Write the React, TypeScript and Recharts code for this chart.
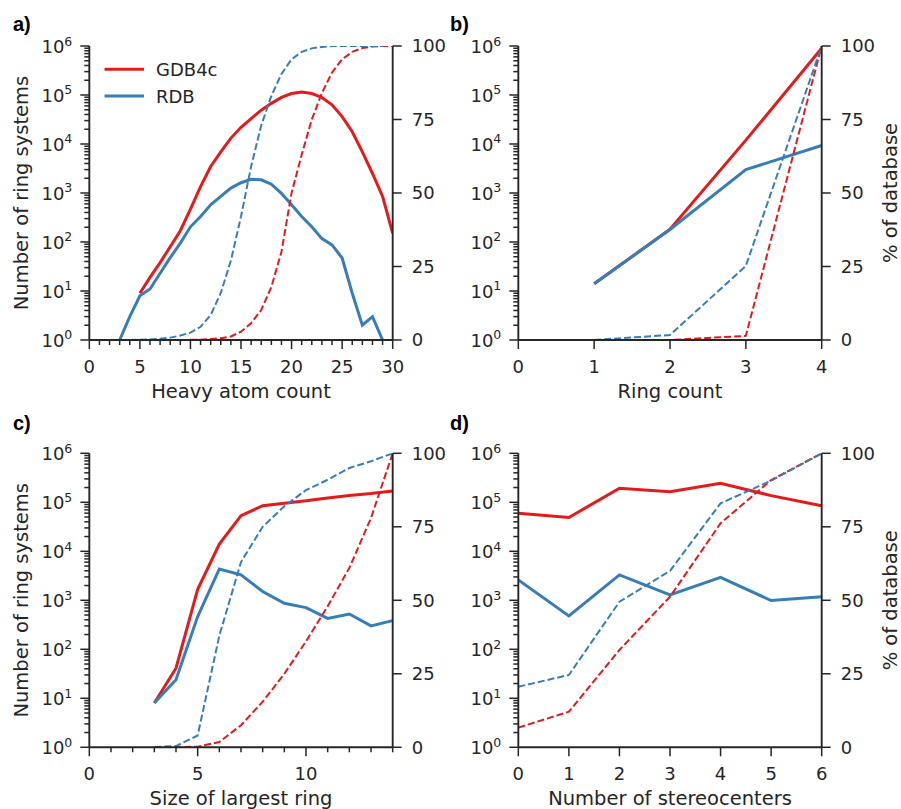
import React from 'react';
import { LineChart, Line, XAxis, YAxis } from 'recharts';

const RED = '#e41a1c';
const BLUE = '#377eb8';
const TEXT = '#262626';
const AXIS = '#262626';
const FONT = '"DejaVu Sans", sans-serif';
const THIN = 0.01;

// ---------- Panel a: heavy atom count ----------
const heavyAtomCount = [3, 4, 5, 6, 7, 8, 9, 10, 11, 12, 13, 14, 15, 16, 17, 18, 19, 20, 21, 22, 23, 24, 25, 26, 27, 28, 29, 30];
const gdbByHeavy = [null, null, 9, 19, 38, 80, 170, 470, 1350, 3470, 6900, 13200, 21900, 33100, 49000, 67600, 89000, 107000, 115000, 107000, 89000, 63000, 36300, 17800, 6900, 2500, 850, 150];
const rdbByHeavy = [1, 3, 8, 11, 23, 48, 95, 204, 331, 575, 851, 1260, 1620, 1900, 1860, 1510, 980, 575, 331, 204, 117, 87, 47, 9, 2, 3, 1, null];
const gdbPctByHeavy = [null, null, 0, 0, 0, 0, 0, 0.05, 0.1, 0.3, 0.6, 1.2, 2.8, 5.7, 10.2, 18, 30, 50, 63, 75, 84, 91, 95.5, 98, 99.3, 99.8, 100, 100];
const rdbPctByHeavy = [0, 0.03, 0.1, 0.2, 0.4, 0.8, 1.5, 2.5, 4.5, 8.5, 16, 27, 42, 59, 73, 83, 90.5, 95.5, 98, 99.2, 99.7, 100, 100, 100, 100, 100, 100, null];

// ---------- Panel b: ring count ----------
const ringCount = [1, 2, 3, 4];
const gdbByRings = [14, 182, 12000, 900000];
const rdbByRings = [14, 180, 3000, 9300];
const gdbPctByRings = [0, 0, 1.4, 100];
const rdbPctByRings = [0, 1.7, 25.2, 100];

// ---------- Panel c: size of largest ring ----------
const largestRing = [3, 4, 5, 6, 7, 8, 9, 10, 11, 12, 13, 14];
const gdbByRingSize = [8, 41, 1670, 14100, 53500, 85000, 95500, 107000, 123000, 138000, 151000, 170000];
const rdbByRingSize = [8, 24, 465, 4360, 3300, 1510, 870, 710, 427, 525, 300, 385];
const gdbPctByRingSize = [0, 0, 0.2, 1.8, 7.5, 15.5, 25, 36, 48, 61, 78, 100];
const rdbPctByRingSize = [0.1, 0.4, 4, 38, 63, 75, 82, 87.5, 91, 95, 97.3, 100];

// ---------- Panel d: stereocenters ----------
const stereocenters = [0, 1, 2, 3, 4, 5, 6];
const gdbByStereo = [60000, 49000, 194000, 165000, 245000, 137000, 85000];
const rdbByStereo = [2600, 480, 3300, 1290, 2950, 990, 1180];
const gdbPctByStereo = [6.7, 12.1, 33.1, 51.2, 76.2, 90.9, 100];
const rdbPctByStereo = [20.6, 24.6, 49.5, 60, 83, 90.7, 100];

// ---------- ticks ----------
const logTicks = [1, 10, 100, 1000, 10000, 100000, 1000000];
const logMinorTicks: number[] = [];
for (let e = 0; e < 6; e++) for (let m = 2; m <= 9; m++) logMinorTicks.push(m * Math.pow(10, e));
const pctTicks = [0, 25, 50, 75, 100];
const heavyTicks = [0, 5, 10, 15, 20, 25, 30];
const heavyMinor = Array.from({ length: 31 }, (_, i) => i).filter((v) => v % 5 !== 0);
const ringTicks = [0, 1, 2, 3, 4];
const ringSizeTicks = [0, 5, 10];
const ringSizeMinor = Array.from({ length: 15 }, (_, i) => i).filter((v) => v % 5 !== 0);
const stereoTicks = [0, 1, 2, 3, 4, 5, 6];

type Row = { x: number; gdb: number | null; rdb: number | null; gdbPct: number | null; rdbPct: number | null };

function buildRows(xs: number[], g: (number | null)[], r: (number | null)[], gp: (number | null)[], rp: (number | null)[]): Row[] {
  return xs.map((x, i) => ({ x, gdb: g[i], rdb: r[i], gdbPct: gp[i], rdbPct: rp[i] }));
}

const TICK_SIZE = 18;

const LogTick = (props: any) => {
  const { x, y, payload } = props;
  const exp = Math.round(Math.log10(payload.value));
  return (
    <text x={x} y={y} dy={7} textAnchor="end" fill={TEXT} fontSize={TICK_SIZE} fontFamily={FONT}>
      <tspan>10</tspan>
      <tspan dy={-7.5} fontSize={12.5}>{exp}</tspan>
    </text>
  );
};

const EmptyTick = () => <g />;

const axisLineStyle = { stroke: AXIS, strokeWidth: 1.9 };
const tickLineStyle = { stroke: AXIS, strokeWidth: 1.5 };
const tickText = { fill: TEXT, fontSize: TICK_SIZE, fontFamily: FONT };

type PanelProps = {
  rows: Row[];
  left: number;
  top: number;
  width: number;
  height: number;
  margin: { top: number; right: number; bottom: number; left: number };
  xDomain: [number, number];
  xTicks: number[];
  xMinor?: number[];
};

function Panel({ rows, left, top, width, height, margin, xDomain, xTicks, xMinor }: PanelProps) {
  return (
    <div style={{ position: 'absolute', left, top, width, height }}>
      <LineChart width={width} height={height} data={rows} margin={margin}>
        {xMinor && xMinor.length > 0 ? (
          <XAxis
            xAxisId="minor"
            type="number"
            dataKey="x"
            domain={xDomain}
            ticks={xMinor}
            interval={0}
            height={THIN}
            tickSize={5}
            axisLine={false}
            tickLine={tickLineStyle}
            tick={EmptyTick}
            allowDataOverflow
          />
        ) : null}
        <XAxis
          xAxisId="main"
          type="number"
          dataKey="x"
          domain={xDomain}
          ticks={xTicks}
          interval={0}
          height={THIN}
          tickSize={9}
          tickMargin={11}
          axisLine={axisLineStyle}
          tickLine={tickLineStyle}
          tick={tickText}
          allowDataOverflow
        />
        <YAxis
          yAxisId="logMinor"
          orientation="left"
          type="number"
          scale="log"
          domain={[1, 1000000]}
          ticks={logMinorTicks}
          interval={0}
          width={THIN}
          tickSize={5}
          axisLine={false}
          tickLine={tickLineStyle}
          tick={EmptyTick}
          allowDataOverflow
        />
        <YAxis
          yAxisId="log"
          orientation="left"
          type="number"
          scale="log"
          domain={[1, 1000000]}
          ticks={logTicks}
          interval={0}
          width={THIN}
          tickSize={9}
          tickMargin={8}
          axisLine={axisLineStyle}
          tickLine={tickLineStyle}
          tick={LogTick}
          allowDataOverflow
        />
        <YAxis
          yAxisId="pct"
          orientation="right"
          type="number"
          domain={[0, 100]}
          ticks={pctTicks}
          interval={0}
          width={THIN}
          tickSize={9}
          tickMargin={10}
          axisLine={axisLineStyle}
          tickLine={tickLineStyle}
          tick={tickText}
          allowDataOverflow
        />
        <Line xAxisId="main" yAxisId="log" type="linear" dataKey="gdb" stroke={RED} strokeWidth={3} dot={false} activeDot={false} isAnimationActive={false} />
        <Line xAxisId="main" yAxisId="log" type="linear" dataKey="rdb" stroke={BLUE} strokeWidth={3} dot={false} activeDot={false} isAnimationActive={false} />
        <Line xAxisId="main" yAxisId="pct" type="linear" dataKey="gdbPct" stroke={RED} strokeWidth={2} strokeDasharray="7 3" dot={false} activeDot={false} isAnimationActive={false} />
        <Line xAxisId="main" yAxisId="pct" type="linear" dataKey="rdbPct" stroke={BLUE} strokeWidth={2} strokeDasharray="7 3" dot={false} activeDot={false} isAnimationActive={false} />
      </LineChart>
    </div>
  );
}

const rowsA = buildRows(heavyAtomCount, gdbByHeavy, rdbByHeavy, gdbPctByHeavy, rdbPctByHeavy);
const rowsB = buildRows(ringCount, gdbByRings, rdbByRings, gdbPctByRings, rdbPctByRings);
const rowsC = buildRows(largestRing, gdbByRingSize, rdbByRingSize, gdbPctByRingSize, rdbPctByRingSize);
const rowsD = buildRows(stereocenters, gdbByStereo, rdbByStereo, gdbPctByStereo, rdbPctByStereo);

const LABEL_SIZE = 19.5;

export default function App() {
  return (
    <div style={{ position: 'absolute', left: 0, top: 0, width: 901, height: 809, background: '#fff', overflow: 'hidden' }}>
      <Panel rows={rowsA} left={0} top={0} width={450} height={400}
        margin={{ top: 46, right: 57.3, bottom: 60, left: 89.3 }}
        xDomain={[0, 30]} xTicks={heavyTicks} xMinor={heavyMinor} />
      <Panel rows={rowsB} left={450} top={0} width={451} height={400}
        margin={{ top: 46, right: 79.3, bottom: 60, left: 68.3 }}
        xDomain={[0, 4]} xTicks={ringTicks} />
      <Panel rows={rowsC} left={0} top={405} width={450} height={404}
        margin={{ top: 48.3, right: 57.3, bottom: 61.7, left: 89.3 }}
        xDomain={[0, 14]} xTicks={ringSizeTicks} xMinor={ringSizeMinor} />
      <Panel rows={rowsD} left={450} top={405} width={451} height={404}
        margin={{ top: 48.3, right: 79.3, bottom: 61.7, left: 68.3 }}
        xDomain={[0, 6]} xTicks={stereoTicks} />
      <svg width={901} height={809} style={{ position: 'absolute', left: 0, top: 0, pointerEvents: 'none' }}>
        <text x={13} y={31} fontFamily='"Liberation Sans", Arial, sans-serif' fontWeight="bold" fontSize={20} fill="#000">a)</text>
        <text x={450} y={31} fontFamily='"Liberation Sans", Arial, sans-serif' fontWeight="bold" fontSize={20} fill="#000">b)</text>
        <text x={13} y={430} fontFamily='"Liberation Sans", Arial, sans-serif' fontWeight="bold" fontSize={20} fill="#000">c)</text>
        <text x={450} y={430} fontFamily='"Liberation Sans", Arial, sans-serif' fontWeight="bold" fontSize={20} fill="#000">d)</text>
        <text x={241} y={398} textAnchor="middle" fontFamily={FONT} fontSize={LABEL_SIZE} fill={TEXT}>Heavy atom count</text>
        <text x={670} y={398} textAnchor="middle" fontFamily={FONT} fontSize={LABEL_SIZE} fill={TEXT}>Ring count</text>
        <text x={241} y={805} textAnchor="middle" fontFamily={FONT} fontSize={LABEL_SIZE} fill={TEXT}>Size of largest ring</text>
        <text x={670} y={805} textAnchor="middle" fontFamily={FONT} fontSize={LABEL_SIZE} fill={TEXT}>Number of stereocenters</text>
        <text transform="translate(27.5,193) rotate(-90)" textAnchor="middle" fontFamily={FONT} fontSize={LABEL_SIZE} fill={TEXT}>Number of ring systems</text>
        <text transform="translate(27.5,600.3) rotate(-90)" textAnchor="middle" fontFamily={FONT} fontSize={LABEL_SIZE} fill={TEXT}>Number of ring systems</text>
        <text transform="translate(897,193) rotate(-90)" textAnchor="middle" fontFamily={FONT} fontSize={LABEL_SIZE} fill={TEXT}>% of database</text>
        <text transform="translate(897,600.3) rotate(-90)" textAnchor="middle" fontFamily={FONT} fontSize={LABEL_SIZE} fill={TEXT}>% of database</text>
        <line x1={104.5} y1={69.3} x2={144} y2={69.3} stroke={RED} strokeWidth={3} />
        <line x1={104.5} y1={96} x2={144} y2={96} stroke={BLUE} strokeWidth={3} />
        <text x={156} y={76} fontFamily={FONT} fontSize={18} fill={TEXT}>GDB4c</text>
        <text x={156} y={103} fontFamily={FONT} fontSize={18} fill={TEXT}>RDB</text>
      </svg>
    </div>
  );
}
